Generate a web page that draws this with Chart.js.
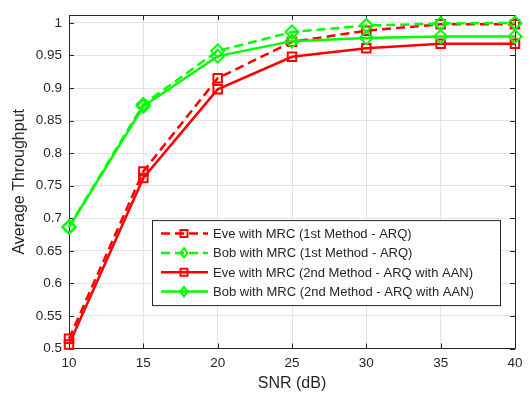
<!DOCTYPE html>
<html>
<head>
<meta charset="utf-8">
<script src="https://cdn.jsdelivr.net/npm/chart.js@4.4.1/dist/chart.umd.min.js"></script>
<style>
  html, body { margin: 0; padding: 0; background: #fff; }
  canvas { display: block; }
</style>
</head>
<body>
<canvas id="grafico" width="530" height="400"></canvas>
<script>
const snr = [10, 15, 20, 25, 30, 35, 40];
const eveArq = [0.515, 0.772, 0.915, 0.971, 0.988, 0.998, 0.998];
const bobArq = [0.687, 0.875, 0.957, 0.986, 0.996, 0.999, 1.0];
const eveAan = [0.506, 0.762, 0.898, 0.948, 0.961, 0.968, 0.968];
const bobAan = [0.686, 0.872, 0.949, 0.972, 0.977, 0.979, 0.979];
const seriesNames = [
    'Eve with MRC (1st Method - ARQ)',
    'Bob with MRC (1st Method - ARQ)',
    'Eve with MRC (2nd Method - ARQ with AAN)',
    'Bob with MRC (2nd Method - ARQ with AAN)'
];

const axisColor = '#262626';
Chart.defaults.font.family = '"Liberation Sans", Arial, sans-serif';
Chart.defaults.color = axisColor;

function serie(nome, valores, cor, tracejado, marcador, ordem) {
    return {
        label: nome,
        data: snr.map((x, i) => ({ x: x, y: valores[i] })),
        borderColor: cor,
        backgroundColor: 'rgba(0,0,0,0)',
        borderWidth: 2.5,
        borderDash: tracejado ? [9, 5] : [],
        pointStyle: marcador,
        pointRadius: marcador === 'rect' ? 6 : 6.5,
        pointBorderWidth: 2,
        pointBorderColor: cor,
        pointBackgroundColor: 'rgba(0,0,0,0)',
        tension: 0,
        clip: false,
        order: ordem
    };
}

// caixa do eixo com ticks para dentro (estilo MATLAB)
const caixaEixo = {
    id: 'caixaEixo',
    beforeDatasetsDraw(chart) {
        const { ctx, chartArea: a, scales } = chart;
        ctx.save();
        ctx.strokeStyle = axisColor;
        ctx.lineWidth = 1;
        ctx.beginPath();
        scales.x.ticks.forEach(t => {
            const px = Math.round(scales.x.getPixelForValue(t.value)) + 0.5;
            ctx.moveTo(px, a.bottom); ctx.lineTo(px, a.bottom - 5);
            ctx.moveTo(px, a.top); ctx.lineTo(px, a.top + 5);
        });
        scales.y.ticks.forEach(t => {
            const py = Math.round(scales.y.getPixelForValue(t.value)) + 0.5;
            ctx.moveTo(a.left, py); ctx.lineTo(a.left + 5, py);
            ctx.moveTo(a.right, py); ctx.lineTo(a.right - 5, py);
        });
        ctx.stroke();
        ctx.strokeRect(Math.round(a.left) + 0.5, Math.round(a.top) + 0.5,
            Math.round(a.right - a.left), Math.round(a.bottom - a.top));
        ctx.restore();
    }
};

function desenharMarcador(ctx, estilo, x, y, r) {
    ctx.beginPath();
    if (estilo === 'rect') {
        ctx.rect(x - r, y - r, 2 * r, 2 * r);
    } else {
        ctx.moveTo(x, y - r * 1.35);
        ctx.lineTo(x + r, y);
        ctx.lineTo(x, y + r * 1.35);
        ctx.lineTo(x - r, y);
        ctx.closePath();
    }
    ctx.stroke();
}

// legenda dentro da área do gráfico
const legendaInterna = {
    id: 'legendaInterna',
    afterDraw(chart) {
        const { ctx, chartArea: a } = chart;
        const x0 = a.left + 83, y0 = a.top + 205, w = 348, h = 85;
        ctx.save();
        ctx.fillStyle = '#fff';
        ctx.fillRect(x0, y0, w, h);
        ctx.strokeStyle = axisColor;
        ctx.lineWidth = 1;
        ctx.strokeRect(x0 + 0.5, y0 + 0.5, w, h);
        ctx.font = '13px "Liberation Sans", Arial, sans-serif';
        ctx.textBaseline = 'middle';
        chart.data.datasets.forEach((ds, i) => {
            const y = y0 + 13.5 + i * 19.3;
            ctx.strokeStyle = ds.borderColor;
            ctx.lineWidth = 2.5;
            ctx.setLineDash(ds.borderDash);
            ctx.beginPath();
            ctx.moveTo(x0 + 9, y);
            ctx.lineTo(x0 + 56, y);
            ctx.stroke();
            ctx.setLineDash([]);
            ctx.lineWidth = 2;
            desenharMarcador(ctx, ds.pointStyle, x0 + 32, y, 3.5);
            ctx.fillStyle = axisColor;
            ctx.fillText(ds.label, x0 + 61, y + 1);
        });
        ctx.restore();
    }
};

const ctx = document.getElementById('grafico').getContext('2d');
new Chart(ctx, {
    type: 'line',
    data: {
        datasets: [
            serie(seriesNames[0], eveArq, '#ff0000', true, 'rect', 3),
            serie(seriesNames[1], bobArq, '#00ff00', true, 'rectRot', 2),
            serie(seriesNames[2], eveAan, '#ff0000', false, 'rect', 1),
            serie(seriesNames[3], bobAan, '#00ff00', false, 'rectRot', 0)
        ]
    },
    options: {
        responsive: false,
        animation: false,
        layout: { padding: { top: 5, right: 15, left: 0, bottom: 0 } },
        plugins: {
            legend: { display: false },
            tooltip: { enabled: false }
        },
        scales: {
            x: {
                type: 'linear',
                min: 10,
                max: 40,
                afterFit: s => { s.height = 51.5; },
                ticks: { stepSize: 5, padding: 7, font: { size: 13.5 }, color: axisColor },
                grid: { color: '#e3e3e3', drawTicks: false },
                border: { display: false },
                title: {
                    display: true,
                    text: 'SNR (dB)',
                    font: { size: 16 },
                    color: axisColor,
                    padding: { top: 0, bottom: 7 }
                }
            },
            y: {
                min: 0.5,
                max: 1.012,
                afterFit: s => { s.width = 69; },
                ticks: {
                    stepSize: 0.05,
                    includeBounds: false,
                    padding: 7,
                    font: { size: 13.5 },
                    color: axisColor,
                    callback: v => Number(v.toFixed(2)).toString()
                },
                grid: { color: '#e3e3e3', drawTicks: false },
                border: { display: false },
                title: {
                    display: true,
                    text: 'Average Throughput',
                    font: { size: 16 },
                    color: axisColor,
                    padding: { top: 10, bottom: 0 }
                }
            }
        }
    },
    plugins: [caixaEixo, legendaInterna]
});
</script>
</body>
</html>
